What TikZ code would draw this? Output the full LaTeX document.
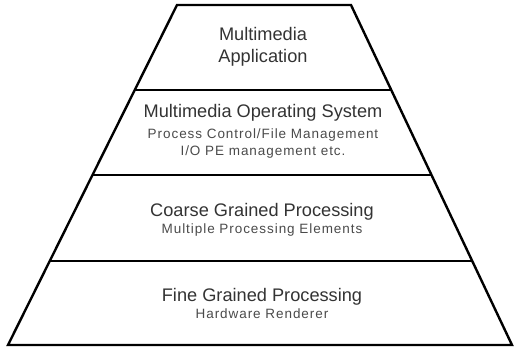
\documentclass[tikz,border=0pt]{standalone}
\usepackage{fontspec}
\setmainfont{Liberation Sans}
\newfontfamily\subfont[LetterSpace=7]{Liberation Sans}
\usetikzlibrary{calc}
\definecolor{titlegray}{HTML}{333333}
\definecolor{subgray}{HTML}{4A4A4A}
\tikzset{
  outline/.style={line width=2.4pt, line join=miter, black},
  divider/.style={line width=2.4pt, black},
  layertitle/.style={text=titlegray, font=\fontsize{18.2}{21}\selectfont, inner sep=0pt, align=center},
  layersub/.style={text=subgray, font=\subfont\fontsize{13.5}{16}\selectfont, inner sep=0pt, align=center},
}
\begin{document}
\begin{tikzpicture}[x=1pt, y=-1pt]
  \useasboundingbox (0,0) rectangle (514,347);
  % pyramid corners
  \coordinate (tl) at (177,5);
  \coordinate (tr) at (351,5);
  \coordinate (bl) at (8,345);
  \coordinate (br) at (512,345);
  % layer boundaries on the slanted sides
  \coordinate (l1) at ($(tl)!0.25!(bl)$);
  \coordinate (r1) at ($(tr)!0.25!(br)$);
  \coordinate (l2) at ($(tl)!0.5!(bl)$);
  \coordinate (r2) at ($(tr)!0.5!(br)$);
  \coordinate (l3) at ($(tl)!0.753!(bl)$);
  \coordinate (r3) at ($(tr)!0.753!(br)$);
  \draw[outline] (tl) -- (tr) -- (br) -- (bl) -- cycle;
  \draw[divider] (l1) -- (r1);
  \draw[divider] (l2) -- (r2);
  \draw[divider] (l3) -- (r3);
  % layer labels
  \node[layertitle] (app) at (263,47) {Multimedia\\[1pt]Application};
  \node[layertitle] (os) at (263,113) {Multimedia Operating System};
  \node[layersub] (osa) at (263,135) {Process Control/File Management};
  \node[layersub] (osb) at (263,152) {I/O PE management etc.};
  \node[layertitle] (cg) at (262,212) {Coarse Grained Processing};
  \node[layersub] (cga) at (262,230) {Multiple Processing Elements};
  \node[layertitle] (fg) at (262,297) {Fine Grained Processing};
  \node[layersub] (fga) at (262,314) {Hardware Renderer};
\end{tikzpicture}
\end{document}
